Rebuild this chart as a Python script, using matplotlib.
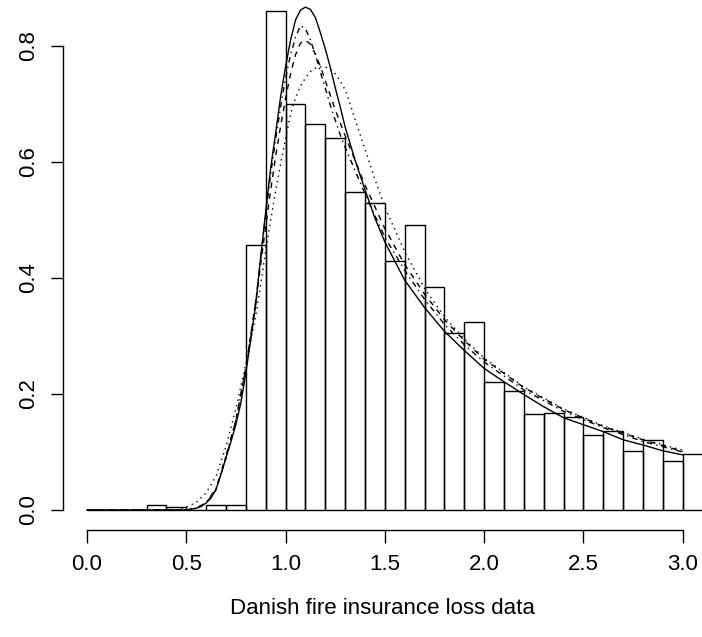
import numpy as np
import matplotlib.pyplot as plt

plt.rcParams['font.family'] = ['Liberation Sans', 'DejaVu Sans']

# histogram of the loss data (bins of width 0.1, density scale)
bin_left = [0.0, 0.1, 0.2, 0.3, 0.4, 0.5, 0.6, 0.7, 0.8, 0.9,
            1.0, 1.1, 1.2, 1.3, 1.4, 1.5, 1.6, 1.7, 1.8, 1.9,
            2.0, 2.1, 2.2, 2.3, 2.4, 2.5, 2.6, 2.7, 2.8, 2.9, 3.0]
density = [0.0, 0.0, 0.0, 0.0086, 0.0046, 0.0, 0.0086, 0.0086, 0.457, 0.861,
           0.700, 0.665, 0.641, 0.549, 0.529, 0.429, 0.491, 0.385, 0.305, 0.324,
           0.221, 0.205, 0.165, 0.168, 0.161, 0.129, 0.137, 0.101, 0.120, 0.084, 0.097]

# fitted densities
x_solid = [0.0, 0.5, 0.55, 0.575, 0.6, 0.625, 0.65, 0.675, 0.7, 0.725, 0.75, 0.775,
           0.8, 0.825, 0.85, 0.875, 0.9, 0.925, 0.95, 0.975, 1.0, 1.025, 1.05, 1.075,
           1.1, 1.125, 1.15, 1.175, 1.2, 1.225, 1.25, 1.275, 1.3, 1.35, 1.4, 1.45,
           1.5, 1.6, 1.7, 1.8, 1.9, 2.0, 2.1, 2.2, 2.3, 2.4, 2.5, 2.6, 2.7, 2.8, 2.9, 3.0]
y_solid = [0.0, 0.0, 0.003, 0.006, 0.012, 0.021, 0.036, 0.062, 0.090, 0.118, 0.148, 0.185,
           0.237, 0.295, 0.355, 0.438, 0.515, 0.590, 0.650, 0.713, 0.765, 0.810, 0.845, 0.862,
           0.867, 0.863, 0.849, 0.823, 0.795, 0.763, 0.728, 0.695, 0.660, 0.603, 0.552, 0.503,
           0.462, 0.396, 0.349, 0.308, 0.275, 0.244, 0.221, 0.199, 0.178, 0.159, 0.147, 0.135,
           0.121, 0.112, 0.102, 0.095]

x_dotdash = [0.0, 0.5, 0.55, 0.6, 0.65, 0.7, 0.75, 0.8, 0.85, 0.9, 0.925, 0.95, 0.975,
             1.0, 1.025, 1.05, 1.075, 1.1, 1.125, 1.15, 1.175, 1.2, 1.225, 1.25, 1.275,
             1.3, 1.4, 1.5, 1.6, 1.7, 1.8, 1.9, 2.0, 2.2, 2.4, 2.6, 2.8, 3.0]
y_dotdash = [0.0, 0.0, 0.003, 0.013, 0.037, 0.094, 0.155, 0.245, 0.360, 0.510, 0.580, 0.640, 0.695,
             0.745, 0.785, 0.815, 0.835, 0.830, 0.810, 0.785, 0.755, 0.727, 0.698, 0.672, 0.647,
             0.625, 0.545, 0.470, 0.413, 0.363, 0.320, 0.285, 0.255, 0.207, 0.170, 0.142, 0.118, 0.100]

x_dashed = [0.0, 0.5, 0.55, 0.6, 0.65, 0.7, 0.75, 0.8, 0.85, 0.9, 0.925, 0.95, 0.975,
            1.0, 1.025, 1.05, 1.075, 1.1, 1.125, 1.15, 1.175, 1.2, 1.25, 1.3, 1.4,
            1.5, 1.6, 1.7, 1.8, 1.9, 2.0, 2.2, 2.4, 2.6, 2.8, 3.0]
y_dashed = [0.0, 0.0, 0.003, 0.012, 0.035, 0.090, 0.155, 0.245, 0.360, 0.490, 0.552, 0.610, 0.662,
            0.710, 0.752, 0.785, 0.805, 0.810, 0.803, 0.786, 0.765, 0.740, 0.690, 0.645, 0.560,
            0.485, 0.423, 0.372, 0.328, 0.292, 0.260, 0.211, 0.173, 0.144, 0.121, 0.101]

x_dotted = [0.0, 0.45, 0.5, 0.55, 0.6, 0.65, 0.7, 0.75, 0.8, 0.85, 0.875, 0.9, 0.925,
            0.95, 0.975, 1.0, 1.025, 1.05, 1.075, 1.1, 1.125, 1.15, 1.175, 1.2, 1.225,
            1.25, 1.275, 1.3, 1.325, 1.35, 1.4, 1.45, 1.5, 1.6, 1.7, 1.8, 1.9, 2.0,
            2.2, 2.4, 2.6, 2.8, 3.0]
y_dotted = [0.0, 0.0, 0.005, 0.013, 0.030, 0.058, 0.110, 0.175, 0.252, 0.335, 0.390, 0.448, 0.500,
            0.550, 0.597, 0.640, 0.683, 0.710, 0.731, 0.745, 0.756, 0.762, 0.764, 0.764, 0.760,
            0.752, 0.740, 0.724, 0.700, 0.673, 0.622, 0.570, 0.522, 0.445, 0.382, 0.333, 0.295, 0.262,
            0.212, 0.174, 0.145, 0.122, 0.103]

fig = plt.figure(figsize=(7.02, 6.37), dpi=100)
ax = fig.add_axes([62.7 / 702, 107 / 637, (702 - 62.7) / 702, 530 / 637])

ax.bar(bin_left, density, width=0.1, align='edge', facecolor='none',
       edgecolor='black', linewidth=1.0)

lw = 1.0
ax.plot(x_solid, y_solid, color='black', lw=lw)
ax.plot(x_dotdash, y_dotdash, color='black', lw=lw, linestyle=(0, (1, 3, 4, 3)))
ax.plot(x_dashed, y_dashed, color='black', lw=lw, linestyle=(0, (4, 4)))
ax.plot(x_dotted, y_dotted, color='black', lw=lw, linestyle=(0, (1, 3)))

ax.set_xlim(-0.1224, 3.0967)
ax.set_ylim(-0.0345, 0.8793)

ax.spines['top'].set_visible(False)
ax.spines['right'].set_visible(False)
ax.spines['left'].set_bounds(0, 0.8)
ax.spines['bottom'].set_bounds(0, 3.0)
for s in ('left', 'bottom'):
    ax.spines[s].set_linewidth(1.0)

ax.set_xticks([0.0, 0.5, 1.0, 1.5, 2.0, 2.5, 3.0])
ax.set_xticklabels(['0.0', '0.5', '1.0', '1.5', '2.0', '2.5', '3.0'])
ax.set_yticks([0.0, 0.2, 0.4, 0.6, 0.8])
ax.set_yticklabels(['0.0', '0.2', '0.4', '0.6', '0.8'], rotation=90, va='center')
ax.tick_params(direction='out', length=9, width=1.0, labelsize=16)
ax.tick_params(axis='x', pad=8)
ax.tick_params(axis='y', pad=8)

ax.set_xlabel('Danish fire insurance loss data', fontsize=16, labelpad=17)

fig.savefig('out.png', dpi=100)
